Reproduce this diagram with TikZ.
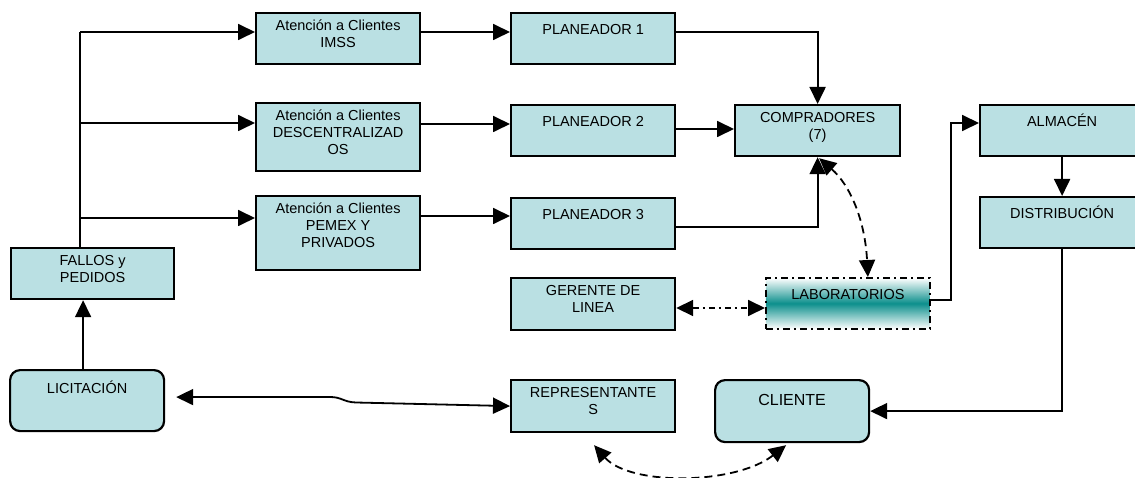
\documentclass[tikz,border=0pt]{standalone}
\usepackage{fontspec}
\setmainfont{Liberation Sans}
\usetikzlibrary{arrows.meta,calc}
\definecolor{boxfill}{RGB}{186,224,227}
\definecolor{labteal}{RGB}{12,143,140}
\newcommand\boxfont{\fontsize{14.5}{16.7}\selectfont}
\newcommand\bigboxfont{\fontsize{16}{18}\selectfont}
\tikzset{
  box/.style={draw=black, line width=2.2pt, fill=boxfill, anchor=north west,
    inner sep=0pt, minimum width=164pt, minimum height=51pt},
  rbox/.style={box, rounded corners=10pt},
  lbl/.style={font=\boxfont, align=center, inner sep=0pt, anchor=north,
    execute at begin node={\rule{0pt}{14pt}}},
  tip/.tip={Triangle[length=17pt,width=16pt]},
  flow/.style={line width=1.8pt, -tip},
  twoway/.style={line width=1.8pt, tip-tip},
  dashedlink/.style={twoway, dash pattern=on 8pt off 5pt},
  dashdotlink/.style={twoway, dash pattern=on 6pt off 4pt on 2pt off 4pt},
}
\begin{document}
\begin{tikzpicture}[x=1pt,y=-1pt]
\useasboundingbox (0,0) rectangle (1135,478);

% --- boxes ---
\node[box] (imss)  at (255,12)  {};
\node[box, minimum height=68pt] (desc)  at (255,102) {};
\node[box, minimum height=74pt] (pemex) at (255,195) {};
\node[box] (p1) at (510,12)  {};
\node[box] (p2) at (510,104) {};
\node[box] (p3) at (510,197) {};
\node[box, minimum width=165pt] (comp) at (734,104) {};
\node[box] (alm)  at (979,104) {};
\node[box] (dist) at (979,196) {};
\node[box, minimum width=163pt] (fallos) at (10,247) {};
\node[box, minimum height=52pt] (ger) at (510,277) {};
\node[box, minimum height=52pt] (rep) at (510,379) {};
\node[rbox, minimum width=154pt, minimum height=61pt] (lic) at (9,369) {};
\node[rbox, minimum width=154pt, minimum height=62pt] (cli) at (714,379) {};
\node[anchor=north west, inner sep=0pt, minimum width=164pt, minimum height=51pt,
      top color=white, bottom color=white, middle color=labteal,
      draw=black, line width=1.8pt, dash pattern=on 7pt off 4pt on 2pt off 4pt]
      (lab) at (765,277) {};

% --- labels ---
\node[lbl] (imss-t)  at ([yshift=-8pt]imss.north)  {Atención a Clientes\\IMSS};
\node[lbl] (desc-t)  at ([yshift=-8pt]desc.north)  {Atención a Clientes\\DESCENTRALIZAD\\OS};
\node[lbl] (pemex-t) at ([yshift=-8pt]pemex.north) {Atención a Clientes\\PEMEX Y\\PRIVADOS};
\node[lbl] (p1-t) at ([yshift=-8pt]p1.north) {PLANEADOR 1};
\node[lbl] (p2-t) at ([yshift=-8pt]p2.north) {PLANEADOR 2};
\node[lbl] (p3-t) at ([yshift=-8pt]p3.north) {PLANEADOR 3};
\node[lbl] (comp-t) at ([yshift=-8pt]comp.north) {COMPRADORES\\(7)};
\node[lbl] (alm-t)  at ([yshift=-8pt]alm.north)  {ALMACÉN};
\node[lbl] (dist-t) at ([yshift=-8pt]dist.north) {DISTRIBUCIÓN};
\node[lbl] (fallos-t) at ([yshift=-8pt]fallos.north) {FALLOS y\\PEDIDOS};
\node[lbl] (ger-t) at ([yshift=-8pt]ger.north) {GERENTE DE\\LINEA};
\node[lbl] (rep-t) at ([yshift=-8pt]rep.north) {REPRESENTANTE\\S};
\node[lbl] (lab-t) at ([yshift=-8pt]lab.north) {LABORATORIOS};
\node[lbl] (lic-t) at ([yshift=-10.7pt]lic.north) {LICITACIÓN};
\node[lbl, font=\bigboxfont] (cli-t) at ([yshift=-12.5pt]cli.north) {CLIENTE};

% --- connectors ---
% trunk from FALLOS y PEDIDOS to the three customer-service desks
\draw[line width=1.8pt] ([xshift=-12.5pt]fallos.north) -- ([xshift=-12.5pt,yshift=-20pt]fallos.north |- imss.north);
\draw[flow] ([xshift=-12.5pt,yshift=-20pt]fallos.north |- imss.north) -- ([yshift=-20pt]imss.north west);
\draw[flow] ([xshift=-12.5pt,yshift=-21pt]fallos.north |- desc.north) -- ([yshift=-21pt]desc.north west);
\draw[flow] ([xshift=-12.5pt,yshift=-23pt]fallos.north |- pemex.north) -- ([yshift=-23pt]pemex.north west);

\draw[flow] ([yshift=-20pt]imss.north east) -- ([yshift=-20pt]p1.north west);
\draw[flow] ([yshift=-22pt]desc.north east) -- ([yshift=-20pt]p2.north west);
\draw[flow] ([yshift=-21pt]pemex.north east) -- ([yshift=-19pt]p3.north west);

\draw[flow] ([yshift=-20pt]p1.north east) -| (comp.north);
\draw[flow] ([yshift=-25pt]p2.north east) -- ([yshift=-25pt]comp.north west);
\draw[flow] ([yshift=-30pt]p3.north east) -| (comp.south);

\draw[flow] ([yshift=-23pt]lab.north east) -- ++(20,0) |- ([yshift=-19pt]alm.north west);
\draw[flow] (alm.south) -- (dist.north);
\draw[flow] (dist.south) |- (cli.east);

\draw[flow] ([xshift=-4pt]lic.north) -- ([xshift=-4pt]lic.north |- fallos.south);

\draw[dashdotlink] ([yshift=-31pt]ger.north east) -- ([yshift=-31pt]lab.north west);
\draw[dashedlink] ([xshift=1.5pt,yshift=-1pt]comp.south)
   .. controls (850,185) and (865,220) .. ([xshift=20pt]lab.north);
\draw[dashedlink] ([xshift=1pt,yshift=-12pt]rep.south)
   .. controls (630,486) and (735,485) .. ([xshift=-6pt,yshift=-2pt]cli.south);
\draw[twoway] ($(lic.east)+(11,-3.5)$) -- (330,397)
   .. controls (342,397) and (343,402) .. (356,402.5) -- (rep.west);
\end{tikzpicture}
\end{document}
